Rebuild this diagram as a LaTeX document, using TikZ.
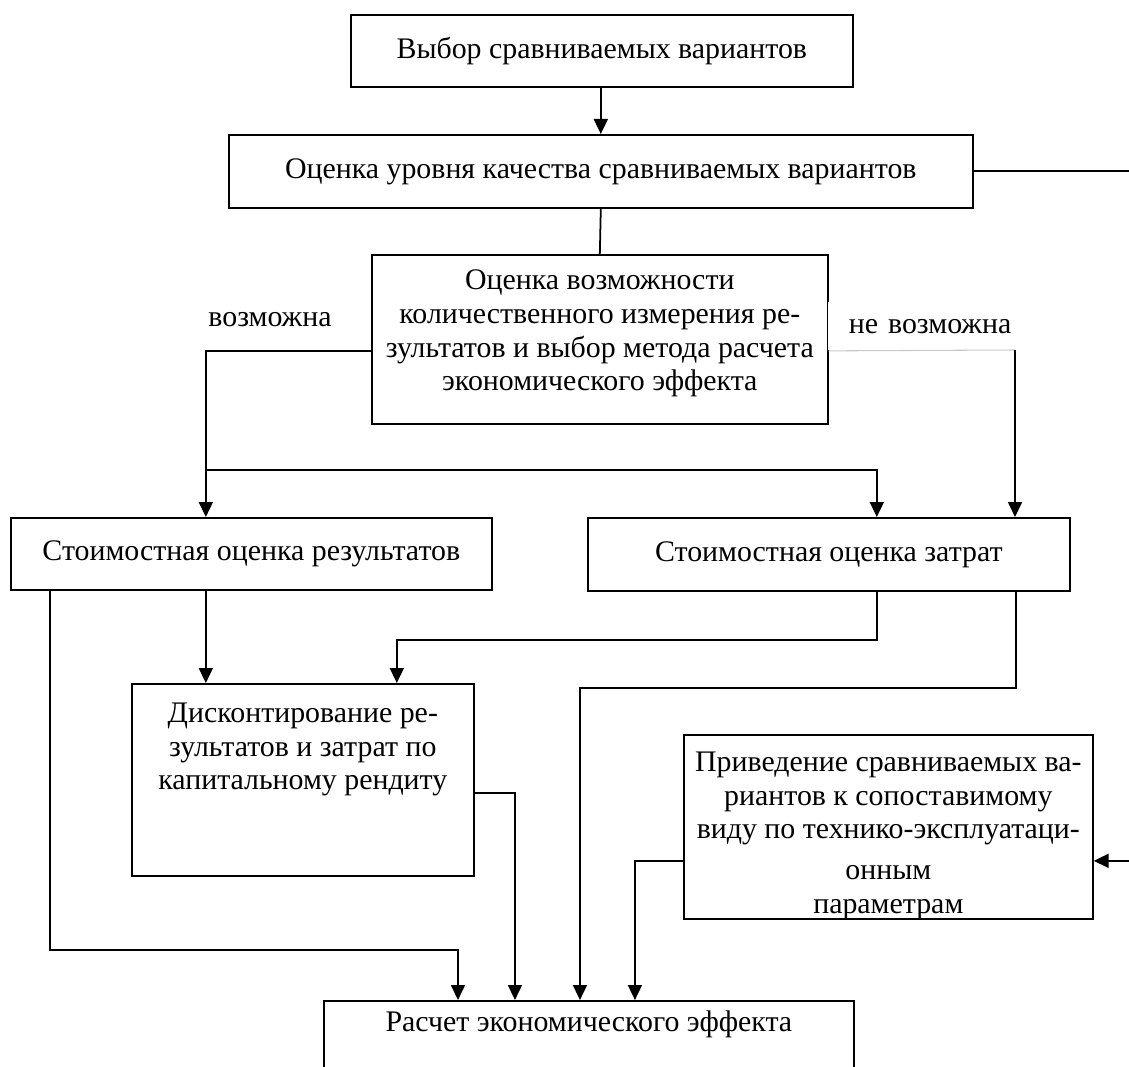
\documentclass[tikz,border=0pt]{standalone}
\usepackage{fontspec}
\setmainfont{Liberation Serif}
\usepackage{xcolor}
\definecolor{inkblack}{HTML}{000000}
\definecolor{paleline}{HTML}{C8C8C8}
\usepackage{tikz}
\usetikzlibrary{arrows.meta}

\begin{document}
\begin{tikzpicture}[x=0.02cm, y=-0.02cm,
    flowbox/.style={draw=inkblack, line width=1pt, inner sep=0pt, align=center,
      anchor=north west, font=\fontsize{17}{19.2}\selectfont},
    tag/.style={font=\fontsize{17}{19.2}\selectfont, inner sep=0pt},
    link/.style={line width=1pt, color=inkblack},
    linkarrow/.style={link, -{Triangle[length=0.3cm, width=0.28cm]}}]
  \useasboundingbox (0,0) rectangle (1129,1067);
  \clip (0,0) rectangle (1129,1067);

  % boxes
  \node[flowbox, minimum width=10.04cm, minimum height=1.44cm] (choice) at (350,14)
    {Выбор сравниваемых вариантов};
  \node[flowbox, minimum width=14.88cm, minimum height=1.46cm] (quality) at (228,134)
    {Оценка уровня качества сравниваемых вариантов};
  \node[flowbox] (assess) at (371,254)
    {\parbox[t][3.38cm][t]{9.12cm}{\centering\vspace*{0.3cm}Оценка возможности\\количественного измерения ре-\\зультатов и выбор метода расчета\\экономического эффекта}};
  \node[flowbox, minimum width=9.62cm, minimum height=1.44cm] (res) at (10,517)
    {Стоимостная оценка результатов};
  \node[flowbox, minimum width=9.64cm, minimum height=1.46cm] (cost) at (587,517)
    {Стоимостная оценка затрат};
  \node[flowbox] (disc) at (131,683)
    {\parbox[t][3.84cm][t]{6.84cm}{\centering\vspace*{0.38cm}Дисконтирование ре-\\зультатов и затрат по\\капитальному рендиту}};
  \node[flowbox] (bring) at (683,734)
    {\parbox[t][3.68cm][t]{8.18cm}{\centering\vspace*{0.34cm}Приведение сравниваемых ва-\\риантов к сопоставимому\\виду по технико-эксплуатаци-\\[4pt]онным\\параметрам}};
  \node[flowbox] (calc) at (323,1000)
    {\parbox[t][2.4cm][t]{10.6cm}{\centering\vspace*{0.2cm}Расчет экономического эффекта}};

  % labels
  \node[tag] (yes) at (270,320) {возможна};
  \node[tag, fill=white, anchor=north west, text width=3.6cm, align=right,
    inner xsep=0.06cm, minimum height=0.96cm] (no) at (828,302) {не возможна};

  % connectors
  \draw[linkarrow] (choice.south -| quality.north) -- (quality.north);
  \draw[link] (quality.south) -- (assess.north);
  \draw[linkarrow] (quality.east) -- ++(160,0) |- ([yshift=-0.68cm]bring.east);
  \draw[linkarrow] ([yshift=-0.23cm]assess.west) -| ([xshift=-0.91cm]res.north);
  \coordinate (fork) at (205,470);
  \draw[linkarrow] (fork) -| ([xshift=0.96cm]cost.north);
  \coordinate (nobend) at (1015,350);
  \draw[line width=0.6pt, paleline] ([yshift=-0.23cm]assess.east) -- (nobend);
  \draw[linkarrow] (nobend) -- (nobend |- cost.north);
  \draw[linkarrow] ([xshift=-0.91cm]res.south) -- ([xshift=-0.91cm]res.south |- disc.north);
  \draw[linkarrow] ([xshift=0.8cm]res.south west) -- ++(0,359) -| ([xshift=2.7cm]calc.north west);
  \draw[linkarrow] ([yshift=-2.2cm]disc.north east) -| ([xshift=3.84cm]calc.north west);
  \draw[linkarrow] ([xshift=0.96cm]cost.south) -- ++(0,48) -| ([xshift=1.88cm]disc.north);
  \draw[linkarrow] ([xshift=3.74cm]cost.south) -- ++(0,96) -| ([xshift=5.14cm]calc.north west);
  \draw[linkarrow] ([yshift=-0.68cm]bring.west) -| ([xshift=6.24cm]calc.north west);
\end{tikzpicture}
\end{document}
